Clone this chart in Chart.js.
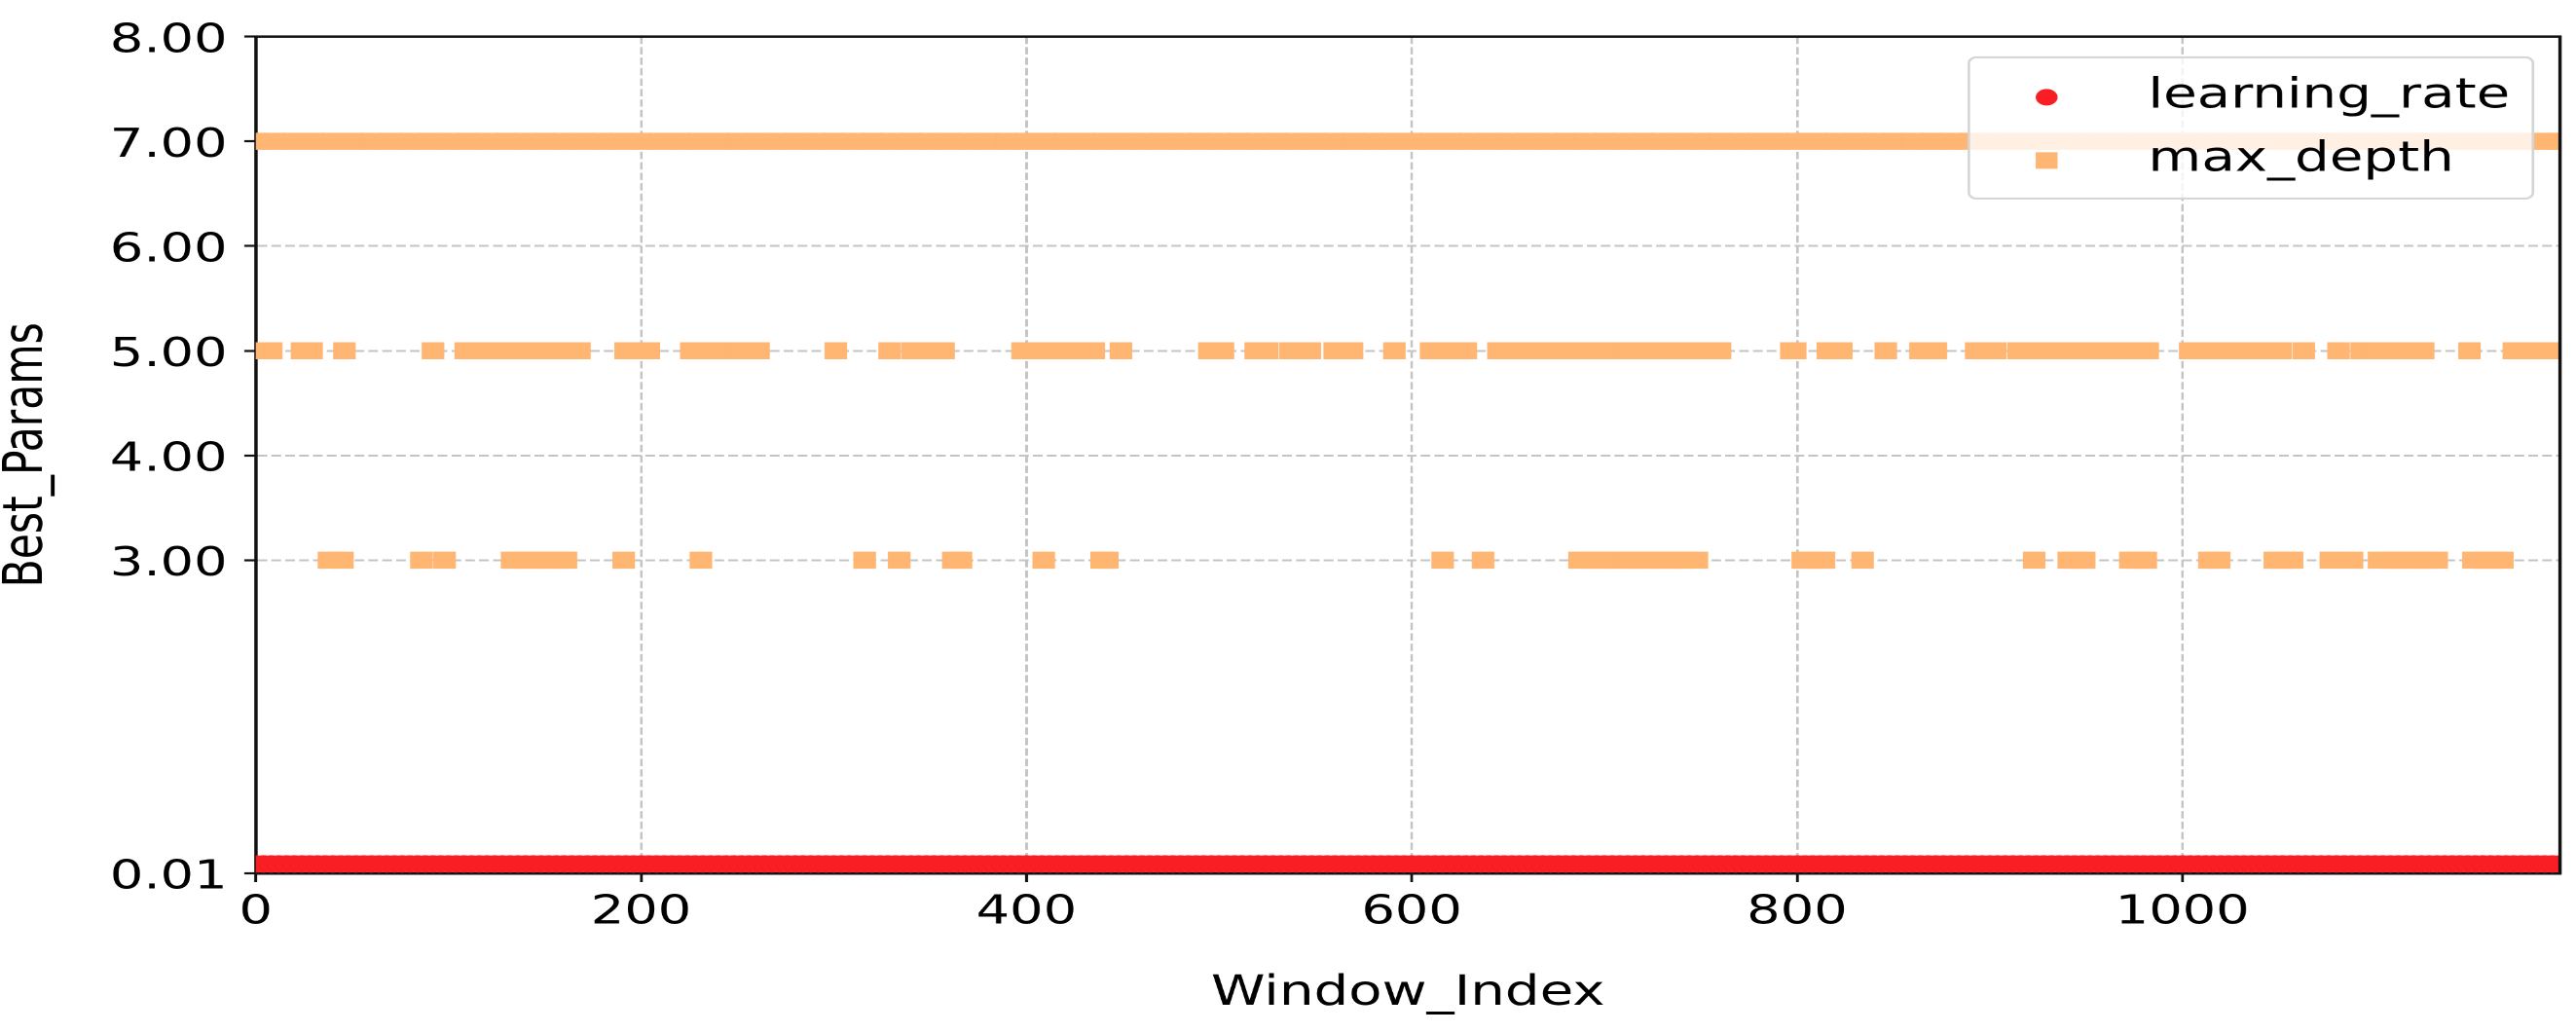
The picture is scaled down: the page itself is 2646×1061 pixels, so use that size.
<!DOCTYPE html>
<html>
<head>
<meta charset="utf-8">
<script src="https://cdn.jsdelivr.net/npm/chart.js@4.4.1/dist/chart.umd.min.js"></script>
<style>
html,body{margin:0;padding:0;background:#ffffff;overflow:hidden;}
#wrap{position:relative;width:2000px;height:1061px;transform:scaleX(1.323);transform-origin:0 0;}
</style>
</head>
<body>
<div id="wrap"><canvas id="c"></canvas></div>
<script>
// ---------- data ----------
const seriesNames = ['learning_rate', 'max_depth'];
const xTicks = [0, 200, 400, 600, 800, 1000];
const yTicks = [0.01, 3, 4, 5, 6, 7, 8];
const xMax = 1196;

// learning_rate: the same value in every window
const learningRate = 0.1;
const lrWindows = [
  0,4,8,12,16,20,24,28,32,36,40,44,48,52,56,60,64,68,72,76,80,84,88,92,96,
  100,104,108,112,116,120,124,128,132,136,140,144,148,152,156,160,164,168,172,176,180,184,188,192,196,
  200,204,208,212,216,220,224,228,232,236,240,244,248,252,256,260,264,268,272,276,280,284,288,292,296,
  300,304,308,312,316,320,324,328,332,336,340,344,348,352,356,360,364,368,372,376,380,384,388,392,396,
  400,404,408,412,416,420,424,428,432,436,440,444,448,452,456,460,464,468,472,476,480,484,488,492,496,
  500,504,508,512,516,520,524,528,532,536,540,544,548,552,556,560,564,568,572,576,580,584,588,592,596,
  600,604,608,612,616,620,624,628,632,636,640,644,648,652,656,660,664,668,672,676,680,684,688,692,696,
  700,704,708,712,716,720,724,728,732,736,740,744,748,752,756,760,764,768,772,776,780,784,788,792,796,
  800,804,808,812,816,820,824,828,832,836,840,844,848,852,856,860,864,868,872,876,880,884,888,892,896,
  900,904,908,912,916,920,924,928,932,936,940,944,948,952,956,960,964,968,972,976,980,984,988,992,996,
  1000,1004,1008,1012,1016,1020,1024,1028,1032,1036,1040,1044,1048,1052,1056,1060,1064,1068,1072,1076,1080,1084,1088,1092,1096,
  1100,1104,1108,1112,1116,1120,1124,1128,1132,1136,1140,1144,1148,1152,1156,1160,1164,1168,1172,1176,1180,1184,1188,1192,1196
];

// max_depth = 7 (band across all windows)
const depth7Windows = [
  0,10,20,30,40,50,60,70,80,90,100,110,120,130,140,150,160,170,180,190,
  200,210,220,230,240,250,260,270,280,290,300,310,320,330,340,350,360,370,380,390,
  400,410,420,430,440,450,460,470,480,490,500,510,520,530,540,550,560,570,580,590,
  600,610,620,630,640,650,660,670,680,690,700,710,720,730,740,750,760,770,780,790,
  800,810,820,830,840,850,860,870,880,890,900,910,920,930,940,950,960,970,980,990,
  1000,1010,1020,1030,1040,1050,1060,1070,1080,1090,1100,1110,1120,1130,1140,1150,1160,1170,1180,1190,1196
];

// max_depth = 5
const depth5Windows = [
  0,4,8, 24,29, 46, 92,
  109,115,121,127,133,139,145,151,157,163,168,
  192,198,204,
  226,232,238,244,250,256,261,
  301, 329, 341,347,352,357,
  398,404,410,416,422,428,435,
  449, 495,502, 519,525, 537,542,547, 560,565,569, 591,
  610,616,622,628,
  645,651,657,663,669,675,681,687,693,699,705,711,717,723,729,735,741,747,753,760,
  797,799, 816,823, 846, 864,868,872, 893,898,903,
  915,921,927,933,939,945,951,957,963,969,975,982,
  1004,1010,1016,1022,1028,1034,1040,1046,1051,
  1063, 1081,
  1093,1099,1105,1111,1117,1125,
  1149,
  1172,1178,1184,1190,1196
];

// max_depth = 3
const depth3Windows = [
  38,45, 86, 98,
  133,139,145,151,157,161,
  191, 231, 316, 334, 362,366, 409, 439,442,
  616, 637,
  687,693,699,705,711,717,723,729,735,741,748,
  803,808,814, 834, 923, 941,945,949, 973,977,981,
  1014,1019, 1048,1052,1057, 1077, 1088,
  1102,1108,1114,1120,1126,1132,
  1151,1156,1161,1166
];

// ---------- styling ----------
const FONT = "'DejaVu Sans', 'Liberation Sans', sans-serif";
const RED = '#F81E24';
const ORANGE = '#FFB673';
const GRID = '#c4c4c4';
const AXIS = '#111111';

const lrPoints = lrWindows.map(x => ({x: x, y: learningRate}));
const depthPoints = []
  .concat(depth7Windows.map(x => ({x: x, y: 7})))
  .concat(depth5Windows.map(x => ({x: x, y: 5})))
  .concat(depth3Windows.map(x => ({x: x, y: 3})));

const framePlugin = {
  id: 'frameAndLegend',
  afterDraw(chart) {
    const ctx = chart.ctx;
    const a = chart.chartArea;
    ctx.save();
    // top and right spines
    ctx.strokeStyle = AXIS;
    ctx.lineWidth = 2.5;
    ctx.setLineDash([]);
    ctx.beginPath();
    ctx.moveTo(a.left - 1.25, a.top);
    ctx.lineTo(a.right, a.top);
    ctx.lineTo(a.right, a.bottom + 1.25);
    ctx.stroke();

    // legend box (upper right)
    const bw = 438, bh = 145;
    const bx = a.right - 21 - bw;
    const by = a.top + 21.3;
    ctx.beginPath();
    if (ctx.roundRect) ctx.roundRect(bx, by, bw, bh, 6); else ctx.rect(bx, by, bw, bh);
    ctx.fillStyle = 'rgba(255,255,255,0.8)';
    ctx.fill();
    ctx.strokeStyle = '#d4d4d4';
    ctx.lineWidth = 2;
    ctx.stroke();

    chart.data.datasets.forEach((ds, i) => {
      const cy = by + 41 + i * 65;
      const cx = bx + 60.4;
      ctx.fillStyle = ds.pointBackgroundColor;
      ctx.beginPath();
      if (ds.pointStyle === 'circle') {
        ctx.arc(cx, cy, 8.5, 0, Math.PI * 2);
      } else {
        ctx.rect(cx - 8.5, cy - 8.5, 17, 17);
      }
      ctx.fill();
      ctx.fillStyle = '#000';
      ctx.font = '42.5px ' + FONT;
      ctx.textAlign = 'left';
      ctx.textBaseline = 'alphabetic';
      ctx.fillText(ds.label, bx + 139.2, cy + 10.8);
    });
    ctx.restore();
  }
};

new Chart(document.getElementById('c'), {
  type: 'scatter',
  data: {
    datasets: [
      {
        label: seriesNames[0],
        data: lrPoints,
        pointStyle: 'circle',
        pointRadius: 9,
        pointBackgroundColor: RED,
        pointBorderColor: RED,
        pointBorderWidth: 0,
        showLine: false
      },
      {
        label: seriesNames[1],
        data: depthPoints,
        pointStyle: 'rect',
        pointRadius: 12.4,
        pointBackgroundColor: ORANGE,
        pointBorderColor: ORANGE,
        pointBorderWidth: 0,
        showLine: false
      }
    ]
  },
  options: {
    responsive: true,
    maintainAspectRatio: false,
    devicePixelRatio: 2,
    animation: false,
    events: [],
    layout: { padding: { top: 32, right: 9, left: 0, bottom: 0 } },
    plugins: {
      legend: { display: false },
      tooltip: { enabled: false }
    },
    scales: {
      x: {
        type: 'linear',
        min: 0,
        max: xMax,
        z: 1,
        afterBuildTicks: s => { s.ticks = xTicks.map(v => ({value: v})); },
        afterFit: s => { s.height = 164; },
        ticks: {
          font: { family: FONT, size: 41 },
          color: '#000',
          padding: 7,
          autoSkip: false,
          maxRotation: 0,
          callback: v => String(v)
        },
        grid: {
          color: c => (c.tick && c.tick.value > 0) ? GRID : 'rgba(0,0,0,0)',
          lineWidth: 2,
          tickColor: AXIS,
          tickLength: 9,
          tickWidth: 2.2,
          tickBorderDash: []
        },
        border: { color: AXIS, width: 2.5, dash: [7.5, 3.25] },
        title: {
          display: true,
          text: 'Window_Index',
          color: '#000',
          font: { family: FONT, size: 42.5, lineHeight: 1 },
          padding: { top: 0, bottom: 19 }
        }
      },
      y: {
        type: 'linear',
        min: 0.01,
        max: 8,
        z: 1,
        afterBuildTicks: s => { s.ticks = yTicks.map(v => ({value: v})); },
        afterFit: s => { s.width = 198.6; },
        ticks: {
          font: { family: FONT, size: 41 },
          color: '#000',
          padding: 13,
          labelOffset: 5,
          autoSkip: false,
          callback: v => Number(v).toFixed(2)
        },
        grid: {
          color: c => (c.tick && c.tick.value >= 3 && c.tick.value <= 7) ? GRID : 'rgba(0,0,0,0)',
          lineWidth: 2,
          tickColor: AXIS,
          tickLength: 9,
          tickWidth: 2.2,
          tickBorderDash: []
        },
        border: { color: AXIS, width: 2.5, dash: [7.5, 3.25] },
        title: {
          display: true,
          text: 'Best_Params',
          color: '#000',
          font: { family: FONT, size: 42.5, lineHeight: 1 },
          padding: { top: 0, bottom: 0 }
        }
      }
    }
  },
  plugins: [framePlugin]
});
</script>
</body>
</html>
